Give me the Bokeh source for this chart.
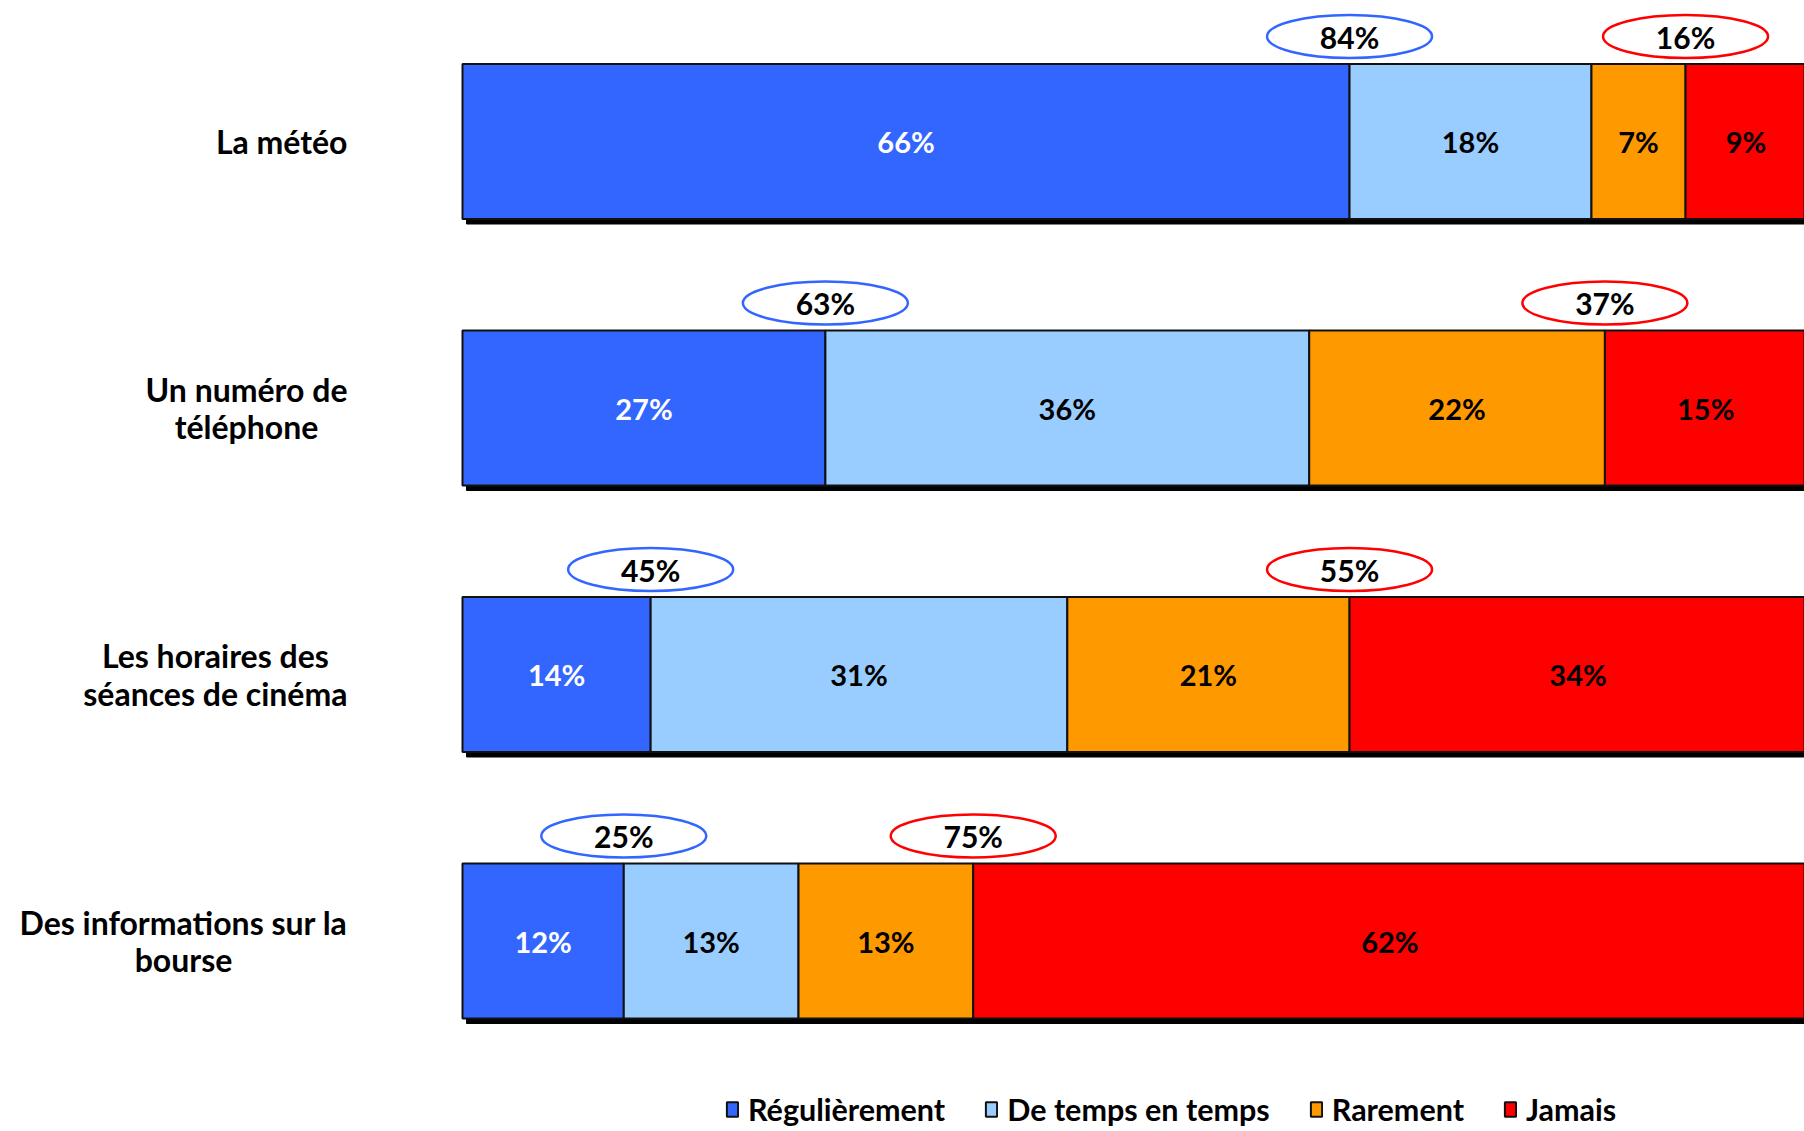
from bokeh.plotting import figure
from bokeh.models import Range1d, Legend, LegendItem, ColumnDataSource
from bokeh.core.properties import value
from bokeh.embed import file_html
from bokeh.resources import INLINE

categories = ["La météo", "Un numéro de\ntéléphone", "Les horaires des\nséances de cinéma",
              "Des informations sur la\nbourse"]
series_names = ["Régulièrement", "De temps en temps", "Rarement", "Jamais"]
regulierement = [66, 27, 14, 12]
de_temps = [18, 36, 31, 13]
rarement = [7, 22, 21, 13]
jamais = [9, 15, 34, 62]
total_oui = [84, 63, 45, 25]
total_non = [16, 37, 55, 75]

colors = ["#3366FF", "#99CCFF", "#FF9900", "#FF0000"]
text_colors = ["white", "black", "black", "black"]
FONT = value("Lato")

W, H = 1804, 1131
LEFT = 462
px_per_unit = 13.44
row_px = 266.5
first_row_px = 141

p = figure(width=W, height=H, output_backend="svg", toolbar_location=None,
           x_axis_location=None, y_axis_location=None,
           min_border_left=0, min_border_right=0, min_border_top=0, min_border_bottom=0)
p.x_range = Range1d(-LEFT / px_per_unit, (W - LEFT) / px_per_unit)
p.y_range = Range1d((H - first_row_px) / row_px, -first_row_px / row_px)
p.xgrid.visible = False
p.ygrid.visible = False
p.outline_line_color = None
p.background_fill_color = "white"
p.border_fill_color = "white"

ys = list(range(len(categories)))
bar_h = 155 / row_px

# shadow
sh_dx = 4 / px_per_unit
sh_dy = 5 / row_px
p.hbar(y=[y + sh_dy for y in ys], left=[sh_dx] * len(ys), right=[100 + sh_dx] * len(ys),
       height=bar_h, fill_color="black", line_color="black")

series = [regulierement, de_temps, rarement, jamais]
renderers = []
cum = [0] * len(ys)
for k, vals in enumerate(series):
    left = list(cum)
    right = [c + v for c, v in zip(cum, vals)]
    src = ColumnDataSource(dict(y=ys, left=left, right=right,
                                mid=[(a + b) / 2 for a, b in zip(left, right)],
                                lab=[f"{v}%" for v in vals]))
    r = p.hbar(y="y", left="left", right="right", height=bar_h, source=src,
               fill_color=colors[k], line_color="#111111", line_width=2)
    renderers.append(r)
    p.text(x="mid", y="y", text="lab", source=src, text_align="center", text_baseline="middle",
           text_font=FONT, text_font_style="bold", text_font_size="29px", text_color=text_colors[k])
    cum = right

# ellipses with totals
ell_dy = 105 / row_px
b_pos = list(regulierement)
r_pos = [a + b + c for a, b, c in zip(regulierement, de_temps, rarement)]
ey = [y - ell_dy for y in ys]
p.ellipse(x=b_pos, y=ey, width=165, height=43, width_units="screen", height_units="screen",
          fill_color="white", line_color="#3366FF", line_width=2.5)
p.ellipse(x=r_pos, y=ey, width=165, height=43, width_units="screen", height_units="screen",
          fill_color="white", line_color="#FF0000", line_width=2.5)
p.text(x=b_pos, y=ey, text=[f"{v}%" for v in total_oui], text_align="center", text_baseline="middle",
       text_font=FONT, text_font_style="bold", text_font_size="30px", text_color="black")
p.text(x=r_pos, y=ey, text=[f"{v}%" for v in total_non], text_align="center", text_baseline="middle",
       text_font=FONT, text_font_style="bold", text_font_size="30px", text_color="black")

# category labels: block right-anchored, lines centred
p.text(x=[0] * len(ys), y=ys, text=categories, anchor="center_right", text_align="center",
       x_offset=-115, text_font=FONT, text_font_style="bold", text_font_size="32px",
       text_line_height=0.97, text_color="black")

legend = Legend(items=[LegendItem(label=n, renderers=[r]) for n, r in zip(series_names, renderers)],
                orientation="horizontal", location=(725, 4),
                glyph_width=14, glyph_height=18, label_standoff=9, spacing=39,
                padding=0, margin=0, border_line_color=None, background_fill_alpha=0,
                label_text_font="Lato", label_text_font_style="bold", label_text_font_size="30.5px",
                label_text_color="black")
p.add_layout(legend, "center")

open("out.html", "w").write(file_html(p, INLINE))
